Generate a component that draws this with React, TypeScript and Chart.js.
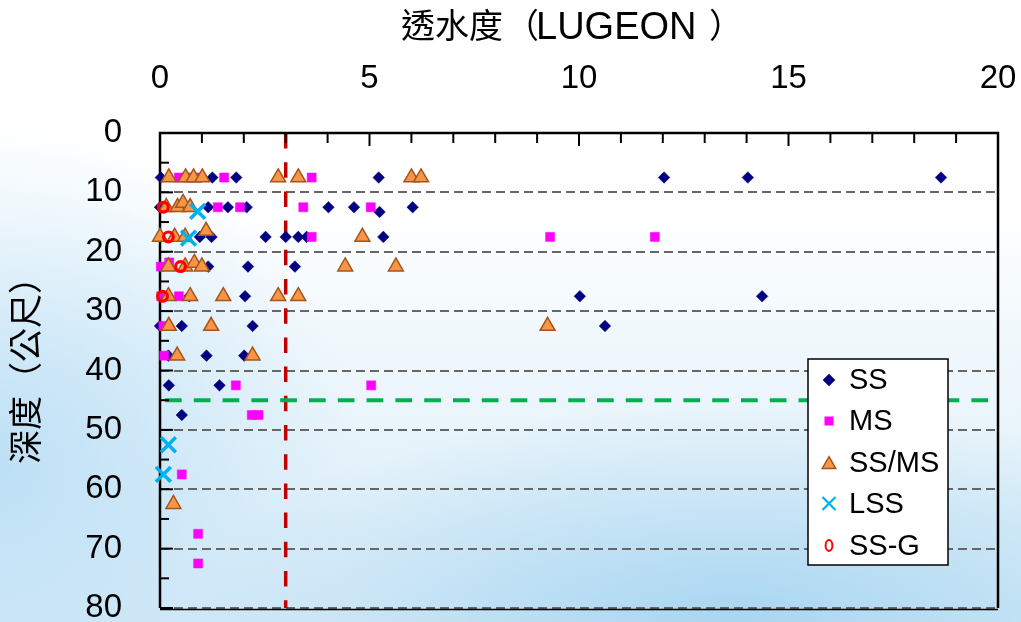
import React, { useEffect, useRef } from "react";
import { Chart, registerables } from "chart.js";

Chart.register(...registerables);

// ---- data ----
const X_TICKS = [0, 5, 10, 15, 20];
const Y_TICKS = [0, 10, 20, 30, 40, 50, 60, 70, 80];
const X_TITLE_PARTS = ["透水度", "（", "LUGEON", "）"];
const Y_TITLE = "深度（公尺）";
const SERIES_NAMES = ["SS", "MS", "SS/MS", "LSS", "SS-G"];
const LUGEON_LIMIT = 3;
const DEPTH_LIMIT = 45;

const SS_LUGEON = [0.02, 1.25, 1.82, 5.22, 12.03, 14.03, 18.64, 0.0, 1.15, 1.62, 2.07, 4.02, 4.63, 5.24, 6.03, 0.95, 1.23, 2.52, 3.0, 3.3, 3.5, 5.33, 1.15, 2.1, 3.22, 0.7, 2.03, 10.02, 14.37, 0.0, 0.52, 2.21, 10.62, 0.2, 1.11, 2.01, 0.21, 1.42, 0.52];
const SS_DEPTH = [7.5, 7.5, 7.5, 7.5, 7.5, 7.5, 7.5, 12.5, 12.5, 12.5, 12.5, 12.5, 12.5, 13.3, 12.5, 17.5, 17.5, 17.5, 17.5, 17.5, 17.5, 17.5, 22.5, 22.5, 22.5, 27.5, 27.5, 27.5, 27.5, 32.5, 32.5, 32.5, 32.5, 37.5, 37.5, 37.5, 42.5, 42.5, 47.5];

const MS_LUGEON = [0.45, 0.65, 0.88, 1.53, 3.62, 1.38, 1.91, 3.42, 5.03, 3.62, 9.31, 11.81, 0.02, 0.22, 0.03, 0.45, 0.08, 0.1, 1.81, 5.04, 2.19, 2.35, 0.52, 0.91, 0.91];
const MS_DEPTH = [7.5, 7.5, 7.5, 7.5, 7.5, 12.5, 12.5, 12.5, 12.5, 17.5, 17.5, 17.5, 22.5, 21.8, 27.5, 27.5, 32.5, 37.5, 42.5, 42.5, 47.5, 47.5, 57.5, 67.5, 72.5];

const SSMS_LUGEON = [0.21, 0.61, 0.8, 1.01, 2.82, 3.3, 6.0, 6.23, 0.15, 0.42, 0.55, 0.72, 0.0, 0.35, 0.6, 1.1, 4.83, 0.2, 0.6, 0.82, 1.0, 4.42, 5.63, 0.2, 0.72, 1.51, 2.82, 3.3, 0.21, 1.22, 9.25, 0.41, 2.21, 0.32];
const SSMS_DEPTH = [7.5, 7.5, 7.5, 7.5, 7.5, 7.5, 7.5, 7.5, 12.5, 12.5, 11.8, 12.5, 17.5, 17.5, 17.5, 16.5, 17.5, 22.5, 22.5, 21.9, 22.5, 22.5, 22.5, 27.5, 27.5, 27.5, 27.5, 27.5, 32.5, 32.5, 32.5, 37.5, 37.5, 62.5];

const LSS_LUGEON = [0.9, 0.68, 0.2, 0.08];
const LSS_DEPTH = [13.2, 17.7, 52.5, 57.5];

const SSG_LUGEON = [0.08, 0.2, 0.49, 0.06];
const SSG_DEPTH = [12.5, 17.5, 22.5, 27.5];

const FONT = '"Liberation Sans", Arial, "Noto Sans CJK TC", sans-serif';

const pts = (xs: number[], ys: number[]) => xs.map((x, i) => ({ x, y: ys[i] }));

const overlayPlugin = {
  id: "overlay",
  beforeDatasetsDraw(chart: any) {
    const { ctx, chartArea, scales } = chart;
    const { left, right, top, bottom } = chartArea;
    const xs = scales.x;
    const ys = scales.y;
    ctx.save();
    // dashed grid lines
    ctx.strokeStyle = "#666666";
    ctx.lineWidth = 2;
    ctx.setLineDash([9, 5]);
    for (const v of Y_TICKS) {
      if (v === 0) continue;
      const py = Math.round(ys.getPixelForValue(v));
      ctx.beginPath();
      ctx.moveTo(left, py);
      ctx.lineTo(right, py);
      ctx.stroke();
    }
    // red limit
    const rx = xs.getPixelForValue(LUGEON_LIMIT);
    ctx.strokeStyle = "#C00000";
    ctx.lineWidth = 3.5;
    ctx.setLineDash([15.5, 13.7]);
    ctx.beginPath();
    ctx.moveTo(rx, top);
    ctx.lineTo(rx, bottom);
    ctx.stroke();
    // green limit
    const gy = ys.getPixelForValue(DEPTH_LIMIT);
    ctx.strokeStyle = "#00B050";
    ctx.lineWidth = 4;
    ctx.setLineDash([16.7, 12.1]);
    ctx.beginPath();
    ctx.moveTo(left + 5, gy);
    ctx.lineTo(right, gy);
    ctx.stroke();
    ctx.setLineDash([]);
    // borders
    ctx.strokeStyle = "#000";
    ctx.lineWidth = 2.5;
    ctx.beginPath();
    ctx.moveTo(left, bottom);
    ctx.lineTo(left, top);
    ctx.lineTo(right, top);
    ctx.lineTo(right, bottom);
    ctx.stroke();
    ctx.lineWidth = 1.5;
    ctx.beginPath();
    ctx.moveTo(left, bottom + 1.5);
    ctx.lineTo(right, bottom + 1.5);
    ctx.stroke();
    // ticks
    ctx.lineWidth = 2;
    for (let v = 0; v <= 20; v += 1) {
      const px = xs.getPixelForValue(v);
      const len = v % 5 === 0 ? 13 : 10;
      ctx.beginPath();
      ctx.moveTo(px, top);
      ctx.lineTo(px, top + len);
      ctx.stroke();
    }
    for (let v = 0; v <= 80; v += 5) {
      const py = ys.getPixelForValue(v);
      const len = v % 10 === 0 ? 13 : 9;
      ctx.beginPath();
      ctx.moveTo(left, py);
      ctx.lineTo(left + len, py);
      ctx.stroke();
    }
    ctx.restore();
  },
  afterDraw(chart: any) {
    const { ctx } = chart;
    ctx.save();
    // x title (drawn in pieces to follow the original spacing)
    ctx.fillStyle = "#000";
    ctx.textAlign = "left";
    ctx.textBaseline = "middle";
    ctx.font = `34px ${FONT}`;
    ctx.fillText(X_TITLE_PARTS[0], 401, 29);
    ctx.fillText(X_TITLE_PARTS[1], 505, 29);
    ctx.font = `38px ${FONT}`;
    ctx.fillText(X_TITLE_PARTS[2], 536, 29);
    ctx.font = `34px ${FONT}`;
    ctx.fillText(X_TITLE_PARTS[3], 709, 29);
    // y title
    ctx.textAlign = "center";
    ctx.save();
    ctx.translate(29, 362);
    ctx.rotate(-Math.PI / 2);
    ctx.fillText(Y_TITLE, 0, 0);
    ctx.restore();

    // legend
    const bx = 808, by = 359, bw = 140, bh = 206;
    ctx.fillStyle = "#fff";
    ctx.fillRect(bx, by, bw, bh);
    ctx.strokeStyle = "#000";
    ctx.lineWidth = 1.5;
    ctx.strokeRect(bx, by, bw, bh);
    const rowsY = [380, 421, 463, 503.5, 545.5];
    const mx = 829;
    rowsY.forEach((yy, i) => {
      ctx.save();
      if (i === 0) {
        ctx.fillStyle = "#000080";
        ctx.beginPath();
        ctx.moveTo(mx, yy - 6.3);
        ctx.lineTo(mx + 6.3, yy);
        ctx.lineTo(mx, yy + 6.3);
        ctx.lineTo(mx - 6.3, yy);
        ctx.closePath();
        ctx.fill();
      } else if (i === 1) {
        ctx.fillStyle = "#FF00FF";
        ctx.fillRect(mx - 4.5, yy - 4.5, 9, 9);
      } else if (i === 2) {
        const r = 7.8;
        ctx.fillStyle = "#F79646";
        ctx.strokeStyle = "#A5541C";
        ctx.lineWidth = 1.5;
        const cy = yy + 1.5;
        ctx.beginPath();
        ctx.moveTo(mx, cy - r);
        ctx.lineTo(mx + r * 0.866, cy + r / 2);
        ctx.lineTo(mx - r * 0.866, cy + r / 2);
        ctx.closePath();
        ctx.fill();
        ctx.stroke();
      } else if (i === 3) {
        ctx.strokeStyle = "#00B0F0";
        ctx.lineWidth = 2.2;
        const h = 6.5;
        ctx.beginPath();
        ctx.moveTo(mx - h, yy - h);
        ctx.lineTo(mx + h, yy + h);
        ctx.moveTo(mx + h, yy - h);
        ctx.lineTo(mx - h, yy + h);
        ctx.stroke();
      } else {
        ctx.strokeStyle = "#FF0000";
        ctx.lineWidth = 2;
        ctx.beginPath();
        ctx.ellipse(mx, yy, 3.4, 5.4, 0, 0, Math.PI * 2);
        ctx.stroke();
      }
      ctx.restore();
      ctx.fillStyle = "#000";
      ctx.font = `29px ${FONT}`;
      ctx.textAlign = "left";
      ctx.textBaseline = "middle";
      ctx.fillText(SERIES_NAMES[i], 849, yy + 1);
    });
    ctx.restore();
  },
};

export default function App() {
  const ref = useRef<HTMLCanvasElement | null>(null);
  useEffect(() => {
    if (!ref.current) return;
    const chart = new Chart(ref.current, {
      type: "scatter",
      data: {
        datasets: [
          {
            label: SERIES_NAMES[0],
            data: pts(SS_LUGEON, SS_DEPTH),
            pointStyle: "rectRot",
            pointRadius: 5.8,
            backgroundColor: "#000080",
            borderColor: "#000080",
            borderWidth: 0.5,
            clip: false,
            order: 5,
          },
          {
            label: SERIES_NAMES[1],
            data: pts(MS_LUGEON, MS_DEPTH),
            pointStyle: "rect",
            pointRadius: 6.4,
            backgroundColor: "#FF00FF",
            borderColor: "#FF00FF",
            borderWidth: 0.5,
            clip: false,
            order: 4,
          },
          {
            label: SERIES_NAMES[2],
            data: pts(SSMS_LUGEON, SSMS_DEPTH),
            pointStyle: "triangle",
            pointRadius: 8.6,
            backgroundColor: "#F79646",
            borderColor: "#A5541C",
            borderWidth: 1.5,
            clip: false,
            order: 3,
          },
          {
            label: SERIES_NAMES[3],
            data: pts(LSS_LUGEON, LSS_DEPTH),
            pointStyle: "crossRot",
            pointRadius: 10.5,
            backgroundColor: "#00B0F0",
            borderColor: "#00B0F0",
            borderWidth: 3.5,
            clip: false,
            order: 2,
          },
          {
            label: SERIES_NAMES[4],
            data: pts(SSG_LUGEON, SSG_DEPTH),
            pointStyle: "circle",
            pointRadius: 4.9,
            backgroundColor: "rgba(0,0,0,0)",
            borderColor: "#FF0000",
            borderWidth: 3.2,
            clip: false,
            order: 1,
          },
        ],
      } as any,
      options: {
        animation: false,
        responsive: false,
        events: [],
        layout: { padding: { left: 0, top: 0, right: 23, bottom: 12 } },
        plugins: {
          legend: { display: false },
          tooltip: { enabled: false },
          title: { display: false },
        },
        scales: {
          x: {
            type: "linear",
            position: "top",
            min: 0,
            max: 20,
            afterBuildTicks: (s: any) => {
              s.ticks = X_TICKS.map((v) => ({ value: v }));
            },
            ticks: {
              color: "#000",
              font: { family: FONT, size: 33 },
              padding: 34,
              maxRotation: 0,
              autoSkip: false,
              callback: (v: any) => String(v),
            },
            grid: { display: false, drawTicks: false },
            border: { display: false },
            afterFit: (s: any) => {
              s.height = 133;
              s.paddingLeft = 0;
              s.paddingRight = 0;
            },
          },
          y: {
            type: "linear",
            reverse: true,
            min: 0,
            max: 80,
            afterBuildTicks: (s: any) => {
              s.ticks = Y_TICKS.map((v) => ({ value: v }));
            },
            ticks: {
              color: "#000",
              font: { family: FONT, size: 33 },
              padding: 38,
              autoSkip: false,
              callback: (v: any) => String(v),
            },
            grid: { display: false, drawTicks: false },
            border: { display: false },
            afterFit: (s: any) => {
              s.width = 160;
              s.paddingTop = 0;
              s.paddingBottom = 0;
            },
          },
        },
      } as any,
      plugins: [overlayPlugin],
    });
    return () => chart.destroy();
  }, []);

  return (
    <div
      style={{
        position: "fixed",
        left: 0,
        top: 0,
        width: 1021,
        height: 622,
        overflow: "hidden",
        background:
          "radial-gradient(ellipse 55% 35% at 72% 100%, rgba(160,210,240,0.85) 0%, rgba(160,210,240,0) 100%), radial-gradient(ellipse 35% 55% at 0% 75%, rgba(185,222,245,0.9) 0%, rgba(185,222,245,0) 100%), linear-gradient(180deg, #ffffff 0%, #ffffff 33%, #eef7fc 58%, #d9ecf8 100%)",
      }}
    >
      <canvas ref={ref} width={1021} height={622} style={{ width: 1021, height: 622, display: "block" }} />
    </div>
  );
}
